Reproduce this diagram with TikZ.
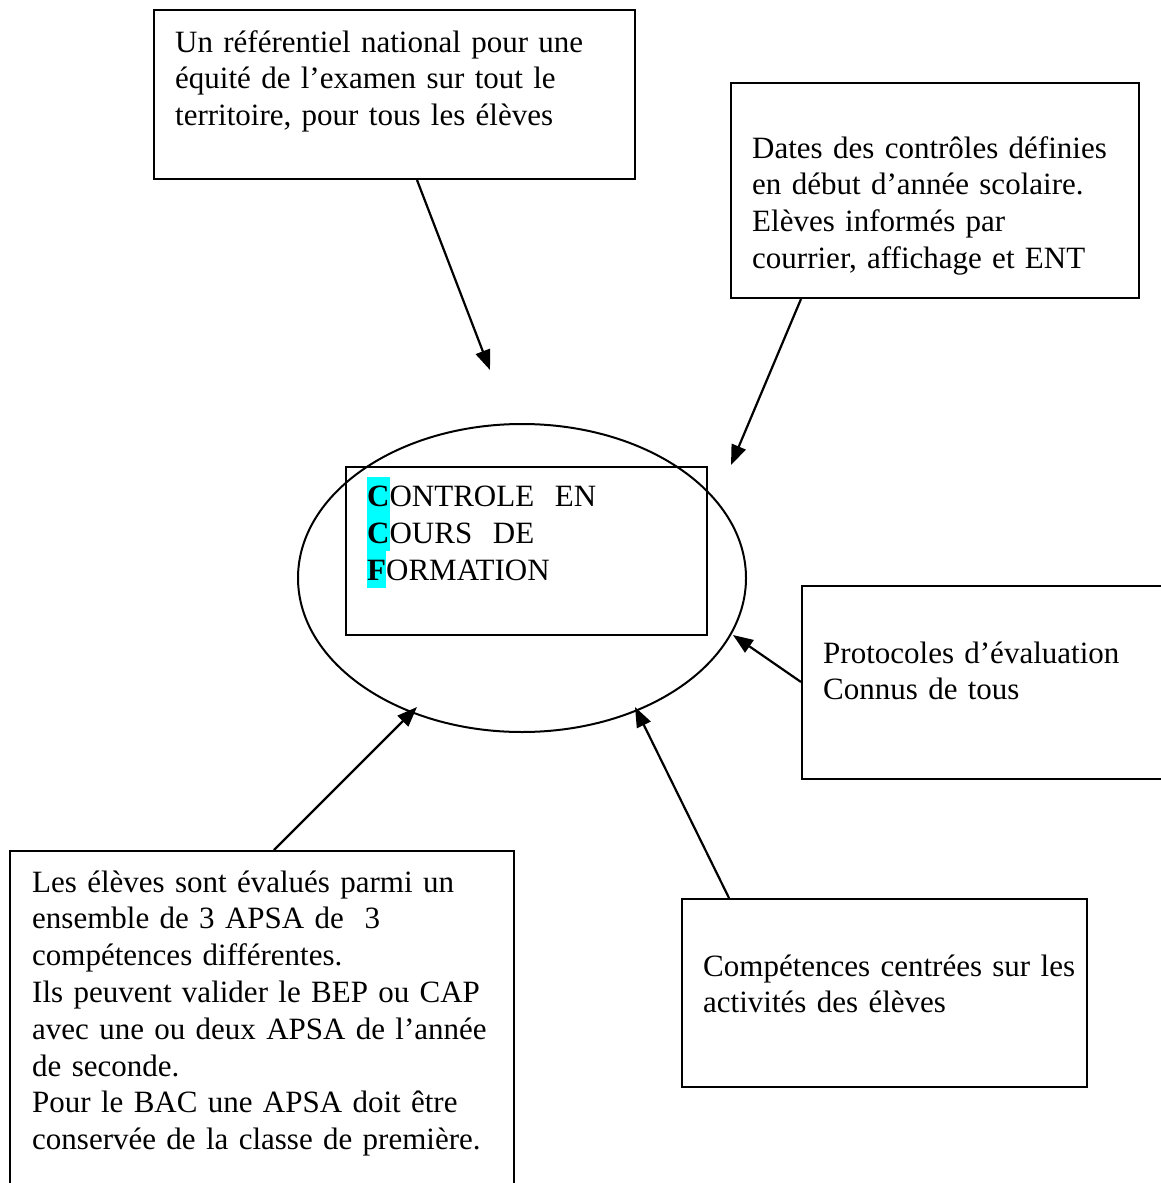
\documentclass[tikz,border=0pt]{standalone}
\usepackage{fontspec}
\setmainfont{Liberation Serif}
\usetikzlibrary{arrows.meta,shapes.geometric}
\definecolor{hl}{HTML}{00FFFF}
\newcommand{\hlletter}[1]{{\setlength{\fboxsep}{0pt}\colorbox{hl}{\rule[-8pt]{0pt}{37pt}\textbf{#1}}}}
\tikzset{
  box/.style={draw, line width=2pt, rectangle, inner sep=0pt},
  txt/.style={anchor=base west, inner sep=0pt, text width=600pt, align=left,
              font={\fontsize{31}{36.8}\selectfont}},
  conn/.style={line width=2.2pt, -{Triangle[length=20pt,width=15pt]}}
}
\begin{document}
\begin{tikzpicture}[x=1pt,y=-1pt]
\useasboundingbox (0,0) rectangle (1161,1183);
\clip (0,0) rectangle (1161,1183);
\fill[white] (0,0) rectangle (1161,1183);

% boxes
\node[box, minimum width=481pt, minimum height=169pt] (tbox) at (394.5,94.5) {};
\node[box, minimum width=408pt, minimum height=215pt] (trbox) at (935,190.5) {};
\node[draw, line width=2pt, ellipse, minimum width=448pt, minimum height=308pt, inner sep=0pt] (ell) at (522,578) {};
\node[box, minimum width=361pt, minimum height=168pt] (ccf) at (526.5,551) {};
\node[box, minimum width=380pt, minimum height=193pt] (rbox) at (992,682.5) {};
\node[box, minimum width=405pt, minimum height=188pt] (brbox) at (884.5,993) {};
\node[box, minimum width=504pt, minimum height=380pt] (blbox) at (262,1041) {};

% texts
\node[txt] (ttext) at (175,52) {Un référentiel national pour une\\équité de l’examen sur tout le\\territoire, pour tous les élèves};
\node[txt] (trtext) at (752,158) {Dates des contrôles définies\\en début d’année scolaire.\\Elèves informés par\\courrier, affichage et ENT};
\node[anchor=base west, inner sep=0pt, text width=340pt, align=left,
      font={\fontsize{31}{37}\selectfont\lineskiplimit=-10pt}] (ccftext) at (367,506)
  {\hlletter{C}ONTROLE\ \ EN\\\hlletter{C}OURS\ \ DE\\\hlletter{F}ORMATION};
\node[txt] (rtext) at (823,663) {Protocoles d’évaluation\\Connus de tous};
\node[txt] (brtext) at (703,976) {Compétences centrées sur les\\activités des élèves};
\node[txt] (bltext) at (32,892) {Les élèves sont évalués parmi un\\ensemble de 3 APSA de\ \ 3\\compétences différentes.\\Ils peuvent valider le BEP ou CAP\\avec une ou deux APSA de l’année\\de seconde.\\Pour le BAC une APSA doit être\\conservée de la classe de première.};

% arrow tips
\coordinate (e1) at (490,370);
\coordinate (e2) at (731,465);
\coordinate (e3) at (733,635);
\coordinate (e4) at (635,707);
\coordinate (e5) at (417,707);

\draw[conn] ([xshift=264pt]tbox.south west) -- (e1);
\draw[conn] ([xshift=71pt]trbox.south west) -- (e2);
\draw[conn] (rbox.west |- 0,682) -- (e3);
\draw[conn] ([xshift=48pt]brbox.north west) -- (e4);
\draw[conn] ([xshift=265pt]blbox.north west) -- (e5);
\end{tikzpicture}
\end{document}
